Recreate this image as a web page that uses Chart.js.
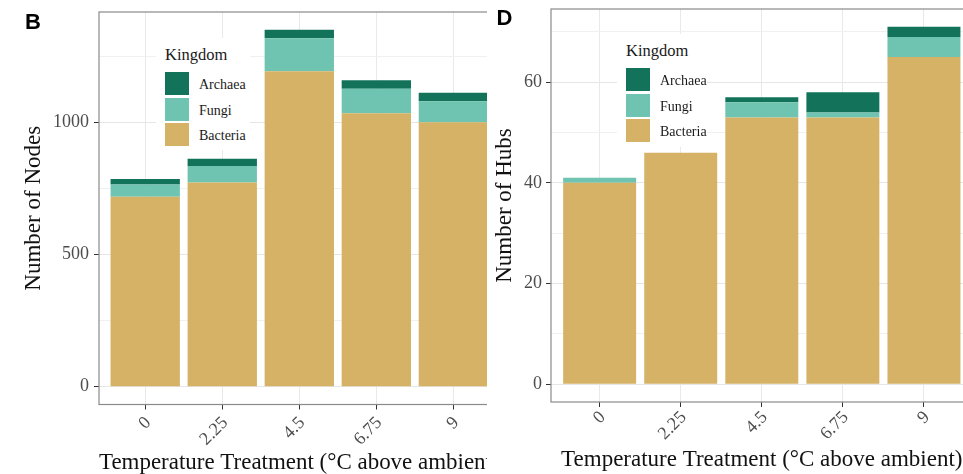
<!DOCTYPE html>
<html>
<head>
<meta charset="utf-8">
<script src="https://cdn.jsdelivr.net/npm/chart.js@4.4.1/dist/chart.umd.min.js"></script>
<style>
  html, body { margin: 0; padding: 0; background: #fff; overflow: hidden; }
  body { width: 963px; height: 474px; position: relative; }
  .panel { position: absolute; top: 0; height: 474px; overflow: hidden; }
  .tag { position: absolute; font: bold 22px 'Liberation Sans', Arial, sans-serif; line-height: 22px; color: #000; }
  .legend { position: absolute; background: #fff; font-family: 'Liberation Serif', serif; color: #1a1a1a; }
  .legend .title { position: absolute; left: 9px; top: 7px; font-size: 16.5px; line-height: 20px; white-space: nowrap; }
  .legend .item { position: absolute; left: 9px; height: 23px; width: 80px; }
  .legend .key { position: absolute; left: 0; top: 0; width: 24px; height: 23px; }
  .legend .label { position: absolute; left: 34px; top: 1px; font-size: 14px; line-height: 23px; white-space: nowrap; }
</style>
</head>
<body>
<div class="panel" style="left:0;width:487px;"><canvas id="nodes" width="510" height="474" style="width:510px;height:474px;"></canvas></div>
<div class="panel" style="left:490px;width:473px;"><canvas id="hubs" width="490" height="474" style="width:490px;height:474px;"></canvas></div>
<div class="legend" id="legendNodes" style="left:156px;top:38px;width:94px;height:112px;"></div>
<div class="legend" id="legendHubs" style="left:617px;top:34px;width:90px;height:113px;"></div>
<div class="tag" style="left:25px;top:10.5px;">B</div>
<div class="tag" style="left:496.5px;top:7px;">D</div>
<script>
// temperature treatments (x categories)
const categories = ['0', '2.25', '4.5', '6.75', '9'];
const kingdoms = ['Bacteria', 'Fungi', 'Archaea'];
const kingdomColors = ['#d5b266', '#6fc4b1', '#12735a'];

// panel B: number of nodes
const nodesBacteria = [720, 774, 1195, 1036, 1002];
const nodesFungi = [46, 62, 125, 93, 79];
const nodesArchaea = [21, 28, 32, 32, 33];
const nodesMajorTicks = [0, 500, 1000];
const nodesMinorTicks = [250, 750, 1250];

// panel D: number of hubs
const hubsBacteria = [40, 46, 53, 53, 65];
const hubsFungi = [1, 0, 3, 1, 4];
const hubsArchaea = [0, 0, 1, 4, 2];
const hubsMajorTicks = [0, 20, 40, 60];
const hubsMinorTicks = [10, 30, 50, 70];

const serif = "'Liberation Serif', 'Times New Roman', serif";
Chart.defaults.font.family = serif;

const panelFrame = {
    id: 'panelFrame',
    afterDraw(chart) {
        const a = chart.chartArea;
        const ctx = chart.ctx;
        ctx.save();
        ctx.strokeStyle = '#8a8a8a';
        ctx.lineWidth = 1.2;
        ctx.strokeRect(a.left, a.top, a.right - a.left, a.bottom - a.top);
        ctx.restore();
    }
};

function makePanel(canvas, p) {
    const totals = categories.map((_, i) => p.series.reduce((s, arr) => s + arr[i], 0));
    const top = Math.max(...totals);
    const xs = categories.map(Number);
    const step = xs[1] - xs[0];
    const yTicks = p.major.concat(p.minor).sort((a, b) => a - b);
    const isMajor = v => p.major.includes(v);

    return new Chart(canvas, {
        type: 'bar',
        data: {
            labels: categories,
            datasets: kingdoms.map((k, i) => ({
                label: k,
                data: p.series[i],
                backgroundColor: kingdomColors[i],
                borderWidth: 0,
                barPercentage: 0.9,
                categoryPercentage: 1
            }))
        },
        options: {
            responsive: false,
            animation: false,
            devicePixelRatio: 1,
            layout: { padding: { left: 0, top: p.area.top, right: canvas.width - p.area.right, bottom: 0 } },
            plugins: { legend: { display: false }, tooltip: { enabled: false } },
            scales: {
                x: {
                    type: 'linear',
                    stacked: true,
                    offset: false,
                    min: xs[0] - 0.6 * step,
                    max: xs[xs.length - 1] + 0.6 * step,
                    afterBuildTicks: s => { s.ticks = xs.map(v => ({ value: v })); },
                    afterFit: s => { s.height = canvas.height - p.area.bottom; },
                    grid: { offset: false, color: '#e9e9e9', lineWidth: 1, tickLength: 5, tickColor: '#333' },
                    border: { display: false },
                    ticks: {
                        autoSkip: false,
                        minRotation: 45,
                        maxRotation: 45,
                        padding: p.xTickPad,
                        labelOffset: 3,
                        color: '#4d4d4d',
                        font: { family: serif, size: 18 },
                        callback: (v, i) => categories[i]
                    },
                    title: {
                        display: true,
                        text: 'Temperature Treatment (°C above ambient)',
                        color: '#111',
                        font: { family: serif, size: 23, lineHeight: 1 },
                        padding: { top: 0, bottom: p.xTitlePad }
                    }
                },
                y: {
                    stacked: true,
                    min: -0.05 * top,
                    max: 1.05 * top,
                    afterBuildTicks: s => { s.ticks = yTicks.map(v => ({ value: v })); },
                    afterFit: s => { s.width = p.area.left; },
                    grid: {
                        color: c => isMajor(c.tick.value) ? '#e6e6e6' : '#f0f0f0',
                        lineWidth: 1,
                        tickLength: 5,
                        tickColor: c => isMajor(c.tick.value) ? '#333' : 'rgba(0,0,0,0)'
                    },
                    border: { display: false },
                    ticks: {
                        padding: p.yTickPad,
                        color: '#4d4d4d',
                        font: { family: serif, size: 18 },
                        callback: v => isMajor(v) ? String(v) : []
                    },
                    title: {
                        display: true,
                        text: p.yTitle,
                        color: '#111',
                        font: { family: serif, size: 23, lineHeight: 1 },
                        padding: { top: p.yTitlePad, bottom: 0 }
                    }
                }
            }
        },
        plugins: [panelFrame]
    });
}

// html legend, built from the chart's datasets (top = last stacked)
function fillLegend(chart, box) {
    const title = document.createElement('div');
    title.className = 'title';
    title.textContent = 'Kingdom';
    box.appendChild(title);
    chart.data.datasets.slice().reverse().forEach((ds, i) => {
        const item = document.createElement('div');
        item.className = 'item';
        item.style.top = (34 + i * 25.5) + 'px';
        item.innerHTML = `<span class="key" style="background:${ds.backgroundColor}"></span><span class="label">${ds.label}</span>`;
        box.appendChild(item);
    });
}

const nodesChart = makePanel(document.getElementById('nodes'), {
    series: [nodesBacteria, nodesFungi, nodesArchaea],
    major: nodesMajorTicks,
    minor: nodesMinorTicks,
    yTitle: 'Number of Nodes',
    area: { left: 99, top: 12, right: 499.6, bottom: 404.5 },
    xTickPad: 3, xTitlePad: 0, yTickPad: 5, yTitlePad: 22.6
});

const hubsChart = makePanel(document.getElementById('hubs'), {
    series: [hubsBacteria, hubsFungi, hubsArchaea],
    major: hubsMajorTicks,
    minor: hubsMinorTicks,
    yTitle: 'Number of Hubs',
    area: { left: 61, top: 9, right: 482.6, bottom: 402 },
    xTickPad: 0, xTitlePad: 3, yTickPad: 4, yTitlePad: 3.8
});

fillLegend(nodesChart, document.getElementById('legendNodes'));
fillLegend(hubsChart, document.getElementById('legendHubs'));
</script>
</body>
</html>
